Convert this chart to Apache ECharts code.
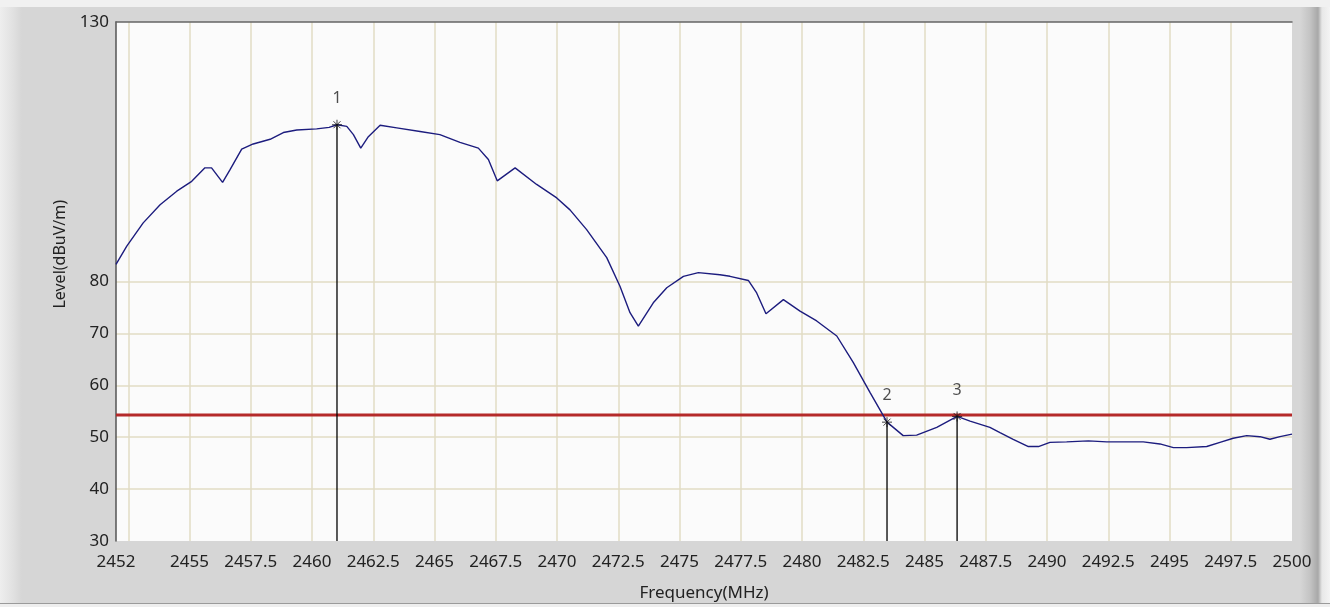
<!DOCTYPE html>
<html>
<head>
<meta charset="utf-8">
<script src="https://cdn.jsdelivr.net/npm/echarts@6/dist/echarts.min.js"></script>
<style>
  html, body { margin: 0; padding: 0; }
  #frame {
    width: 1330px; height: 607px; position: relative; overflow: hidden;
    background: linear-gradient(to right, #eeeeee 0px, #e2e2e2 12px, #d6d6d6 22px, #d6d6d6 1300px, #c4c4c4 1310px, #a8a8a8 1318px, #e8e8e8 1322px, #f4f4f4 1330px);
  }
  #frame:before { content: ""; position: absolute; left: 0; right: 0; top: 0; height: 7px; background: #f1f1f1; }
  #frame:after { content: ""; position: absolute; left: 0; right: 0; bottom: 0; height: 3px; background: #eeeeee; border-top: 1px solid #9a9a9a; }
  #chart { position: absolute; left: 0; top: 0; width: 1330px; height: 607px; z-index: 1; }
</style>
</head>
<body>
<div id="frame"><div id="chart"></div></div>
<script>
// ---- data ----
const freq = [2452.0, 2452.44, 2453.11, 2453.8, 2454.48, 2455.09, 2455.63, 2455.9, 2456.35, 2456.65,
  2457.13, 2457.6, 2458.29, 2458.83, 2459.38, 2460.19, 2460.7, 2461.02, 2461.42, 2461.69,
  2461.99, 2462.3, 2462.78, 2463.46, 2464.41, 2465.22, 2466.04, 2466.79, 2467.2, 2467.56,
  2468.29, 2469.17, 2469.99, 2470.53, 2471.21, 2472.03, 2472.57, 2472.98, 2473.32, 2473.93,
  2474.48, 2475.16, 2475.77, 2476.65, 2477.06, 2477.81, 2478.15, 2478.53, 2479.24, 2479.92,
  2480.6, 2481.42, 2482.09, 2482.78, 2483.47, 2484.13, 2484.68, 2485.5, 2486.33, 2486.86,
  2487.67, 2488.08, 2488.62, 2489.24, 2489.65, 2490.12, 2490.8, 2491.69, 2492.44, 2493.93,
  2494.61, 2495.16, 2495.7, 2496.52, 2497.06, 2497.6, 2498.15, 2498.69, 2499.1, 2499.51, 2500.0];
const level = [83.3, 86.8, 91.3, 94.8, 97.4, 99.3, 101.9, 101.9, 99.1, 101.5,
  105.5, 106.5, 107.4, 108.7, 109.2, 109.4, 109.7, 110.2, 109.9, 108.3,
  105.7, 107.9, 110.1, 109.6, 108.9, 108.3, 106.8, 105.7, 103.5, 99.4,
  101.9, 98.7, 96.1, 93.8, 90.0, 84.6, 79.1, 74.0, 71.4, 75.9,
  78.8, 81.0, 81.7, 81.3, 81.0, 80.2, 77.8, 73.8, 76.5, 74.3,
  72.4, 69.5, 64.4, 58.6, 52.9, 50.3, 50.4, 51.9, 54.0, 53.1,
  51.9, 50.9, 49.6, 48.2, 48.2, 49.0, 49.1, 49.3, 49.1, 49.1,
  48.7, 48.0, 48.0, 48.2, 49.0, 49.8, 50.3, 50.1, 49.6, 50.1, 50.6];
const markerNames = ['1', '2', '3'];
const markerFreq = [2461.02, 2483.47, 2486.33];
const markerLevel = [110.2, 52.9, 54.0];
const limitLevel = 54.3;
const xLabelValues = [2452, 2455, 2457.5, 2460, 2462.5, 2465, 2467.5, 2470, 2472.5, 2475, 2477.5, 2480, 2482.5, 2485, 2487.5, 2490, 2492.5, 2495, 2497.5, 2500];
const xGridValues = [2452.5, 2455, 2457.5, 2460, 2462.5, 2465, 2467.5, 2470, 2472.5, 2475, 2477.5, 2480, 2482.5, 2485, 2487.5, 2490, 2492.5, 2495, 2497.5];
const yLabelValues = [30, 40, 50, 60, 70, 80, 130];
const yGridValues = [40, 50, 60, 70, 80];
const xMin = 2452, xMax = 2500, yMin = 30, yMax = 130;

// ---- chart ----
const FONT = 'Noto Sans';
const chart = echarts.init(document.getElementById('chart'), null, { renderer: 'canvas' });
const curve = freq.map((f, i) => [f, level[i]]);
const markerSeries = markerFreq.map((f, i) => ({
  type: 'line', data: [[f, yMin], [f, markerLevel[i]]], symbol: 'none', silent: true,
  lineStyle: { color: '#000000', width: 1.3 }, z: 4, animation: false
}));
const asterisk = 'path://M0,5L10,5M5,0L5,10M1.5,1.5L8.5,8.5M8.5,1.5L1.5,8.5';

chart.setOption({
  animation: false,
  grid: { left: 116, right: 38, top: 22, bottom: 65, show: true, backgroundColor: '#fbfbfb', borderWidth: 0 },
  xAxis: [{
    type: 'value', min: xMin, max: xMax,
    name: 'Frequency(MHz)', nameLocation: 'middle', nameGap: 44,
    nameTextStyle: { fontFamily: FONT, fontSize: 17, color: '#222' },
    axisLine: { show: false },
    axisTick: { show: false, customValues: xGridValues },
    axisLabel: { customValues: xLabelValues, formatter: v => String(v), fontFamily: FONT, fontSize: 17, color: '#222', margin: 13 },
    splitLine: { show: true, lineStyle: { color: '#e2dcc4', width: 1.5 } }
  }, {
    type: 'value', min: xMin, max: xMax, position: 'top',
    axisLine: { show: true, lineStyle: { color: '#666', width: 1.5 } },
    axisTick: { show: false }, axisLabel: { show: false }, splitLine: { show: false }
  }],
  yAxis: {
    type: 'value', min: yMin, max: yMax,
    axisLine: { show: true, lineStyle: { color: '#555', width: 1.5 } },
    axisTick: { show: false, customValues: yGridValues },
    axisLabel: { customValues: yLabelValues, formatter: v => String(v), fontFamily: FONT, fontSize: 17, color: '#222', margin: 7 },
    splitLine: { show: true, lineStyle: { color: '#e2dcc4', width: 1.5 } }
  },
  graphic: [{
    type: 'text', left: 52, top: 200, rotation: Math.PI / 2, z: 10,
    style: { text: 'Level(dBuV/m)', font: '16px "Noto Sans"', fill: '#222' }
  }],
  series: [
    {
      type: 'line', data: [[xMin, limitLevel], [xMax, limitLevel]], symbol: 'none', silent: true,
      lineStyle: { color: '#b52a2a', width: 3 }, z: 3
    },
    ...markerSeries,
    {
      type: 'line', data: curve, symbol: 'none', silent: true,
      lineStyle: { color: '#1c1c7e', width: 1.4 }, z: 5
    },
    {
      type: 'scatter', data: markerFreq.map((f, i) => ({ value: [f, markerLevel[i]], name: markerNames[i] })),
      symbol: asterisk, symbolSize: 10, silent: true, z: 6,
      itemStyle: { color: 'rgba(0,0,0,0)', borderColor: '#111', borderWidth: 1 },
      label: { show: true, position: 'top', distance: 13, formatter: p => p.name, fontFamily: FONT, fontSize: 16, color: '#222' }
    }
  ]
});
</script>
</body>
</html>
